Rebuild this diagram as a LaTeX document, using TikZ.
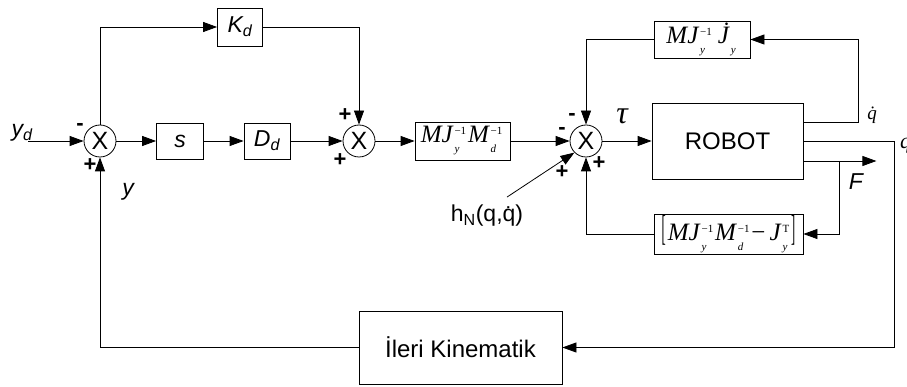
\documentclass[tikz,border=0pt]{standalone}
\usepackage{fontspec}
\setmainfont{Liberation Sans}
\newfontfamily\tms{Liberation Serif}
\usepackage{graphicx}
\usetikzlibrary{arrows.meta}
\newcommand\SpSb[2]{{\fontsize{11}{11}\selectfont\upshape\setbox0\hbox{\raisebox{8pt}{\,#1}}\setbox2\hbox{\raisebox{-10pt}{\,\itshape #2}}\ifdim\wd0>\wd2 \rlap{\box2}\box0\else\rlap{\box0}\box2\fi\,}}
\tikzset{
  blk/.style={draw, line width=0.8pt, inner sep=0pt, rectangle, font=\itshape\fontsize{23}{23}\selectfont},
  mathblk/.style={draw, line width=0.8pt, inner sep=0pt, rectangle, font=\tms\itshape\fontsize{25}{27}\selectfont},
  sumc/.style={draw, circle, line width=0.8pt, minimum size=32pt, inner sep=0pt, font=\fontsize{25}{25}\selectfont},
  sig/.style={font=\bfseries\fontsize{22}{22}\selectfont, inner sep=0pt},
  wire/.style={line width=0.8pt},
  arr/.style={wire, -{Triangle[length=14pt,width=10pt]}},
  lbl/.style={inner sep=0pt, font=\itshape\fontsize{23}{23}\selectfont},
}
\begin{document}
\begin{tikzpicture}[x=1pt,y=-1pt]
\useasboundingbox (0,0) rectangle (907,387);
% nodes
\node[sumc] (s1) at (100,141) {X};
\node[blk, minimum width=45pt, minimum height=38pt] (Kd) at (240,27) {K\textsubscript{d}};
\node[blk, minimum width=47pt, minimum height=36pt] (S) at (180,141) {s};
\node[blk, minimum width=46pt, minimum height=36pt] (Dd) at (267,141) {D\textsubscript{d}};
\node[sumc] (s2) at (359,141) {X};
\node[mathblk, minimum width=95pt, minimum height=38pt] (MJ) at (462.5,141) {MJ\SpSb{−1}{y}M\SpSb{−1}{d}};
\node[sumc] (s3) at (586,141) {X};
\node[blk, font=\fontsize{24}{24}\selectfont, minimum width=151pt, minimum height=76pt] (R) at (727.5,141) {ROBOT};
\node[mathblk, minimum width=96pt, minimum height=37pt] (MJJ) at (702,39.5) {MJ\SpSb{−1}{y}\,\.{J}\SpSb{\,}{y}};
\node[mathblk, minimum width=149pt, minimum height=40pt] (BR) at (728.5,234) {\upshape\scalebox{0.5}[1.45]{[}\hspace{2pt}\itshape MJ\SpSb{−1}{y}M\SpSb{−1}{d}\upshape−\,\itshape J\SpSb{T}{y}\upshape\scalebox{0.5}[1.45]{]}};
\node[blk, font=\fontsize{24}{24}\selectfont, minimum width=203pt, minimum height=73pt] (IK) at (460.5,347.5) {İleri Kinematik};
% labels
\node[lbl] (yd) at (22,133) {y\textsubscript{d}};
\node[lbl] (yl) at (128,192) {y};
\node[inner sep=0pt, font=\tms\itshape\fontsize{32}{32}\selectfont] (tau) at (622,116) {τ};
\node[inner sep=0pt, font=\tms\itshape\fontsize{19}{19}\selectfont] (qd) at (872,115) {\.{q}};
\node[inner sep=0pt, font=\tms\itshape\fontsize{22}{22}\selectfont, anchor=west] (q) at (900,146) {q};
\node[lbl] (F) at (856,182) {F};
\node[inner sep=0pt, font=\fontsize{23}{23}\selectfont] (hN) at (487,216) {h\textsubscript{N}(q,\.{q})};
% signs
\node[sig] (m1) at (80,127) {-};
\node[sig] (p1) at (90,165) {+};
\node[sig] (p2a) at (345,115) {+};
\node[sig] (p2b) at (340,160) {+};
\node[sig] (m3a) at (572,117) {-};
\node[sig] (m3b) at (562,131) {-};
\node[sig] (p3a) at (562,172) {+};
\node[sig] (p3b) at (599,163) {+};
% coordinates
\coordinate (in) at (28,141);
\coordinate (Fend) at ([yshift=-20pt,xshift=73pt]R.east);
\coordinate (Fb) at ([yshift=-20pt,xshift=36pt]R.east);
% connectors
\draw[arr] (in) -- (s1.west);
\draw[arr] (s1.east) -- (S.west);
\draw[arr] (S.east) -- (Dd.west);
\draw[arr] (Dd.east) -- (s2.west);
\draw[arr] (s2.east) -- (MJ.west);
\draw[arr] (MJ.east) -- (s3.west);
\draw[arr] (s3.east) -- (R.west);
\draw[arr] (s1.north) |- (Kd.west);
\draw[arr] (Kd.east) -| (s2.north);
\draw[arr] ([yshift=19pt]R.east) -- ++(55,0) |- (MJJ.east);
\draw[arr] (MJJ.west) -| (s3.north);
\draw[arr] (R.east) -- ++(91,0) |- (IK.east);
\draw[arr] ([yshift=-20pt]R.east) -- (Fend);
\draw[arr] (Fb) |- (BR.east);
\draw[arr] (BR.west) -| (s3.south);
\draw[arr] (IK.west) -| (s1.south);
\draw[wire, -{Triangle[length=14pt,width=10pt]}] ([xshift=20pt,yshift=8pt]hN.north) -- (s3.225);
\end{tikzpicture}
\end{document}
